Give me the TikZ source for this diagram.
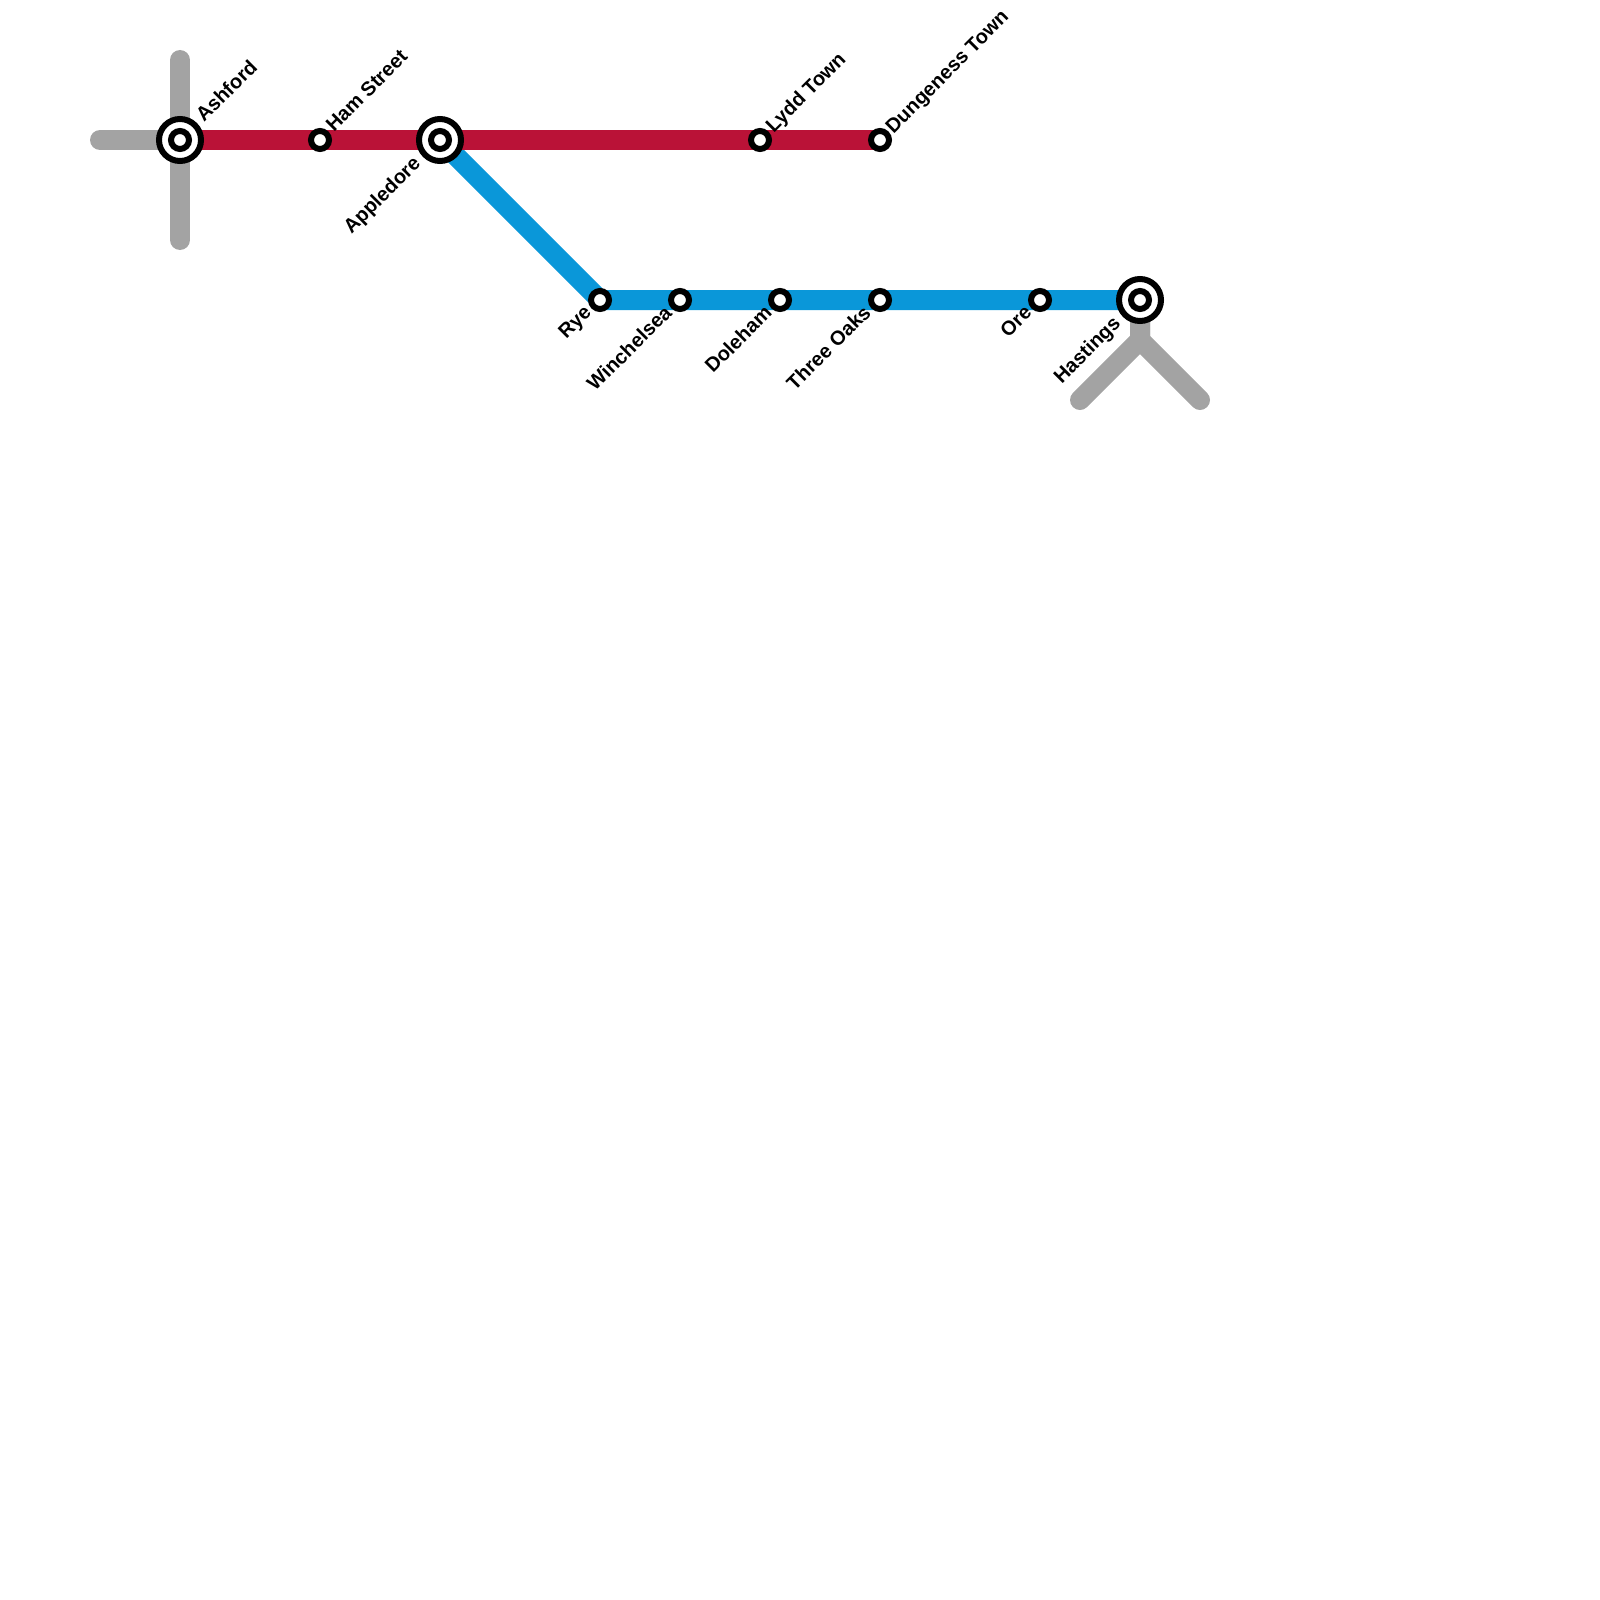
\documentclass[tikz,border=0pt]{standalone}
\usepackage{fontspec}
\setmainfont{Liberation Sans}
\usepackage{xcolor}
\usepackage{tikz}
\usetikzlibrary{positioning}

\definecolor{redline}{HTML}{BA1237}
\definecolor{blueline}{HTML}{0A97D9}
\definecolor{greyline}{HTML}{A3A3A3}

\begin{document}
\begin{tikzpicture}[
    x=1pt, y=-1pt,
    line/.style={line width=20pt, line join=miter},
    stub/.style={line, greyline, line cap=round},
    stop/.style={circle, draw=black, line width=6pt, fill=white, inner sep=0pt, minimum size=18pt},
    hub/.style={stop, minimum size=42pt},
    upname/.style={rotate=45, anchor=west, inner sep=0pt, font=\bfseries\fontsize{20}{22}\selectfont},
    downname/.style={rotate=45, anchor=east, inner sep=0pt, font=\bfseries\fontsize{20}{22}\selectfont}
]
\useasboundingbox (0,0) rectangle (1600,1600);

% stations
\coordinate (ashfordpos) at (180,140);
\coordinate (applepos) at (440,140);
\coordinate (hastingspos) at (1140,300);
\coordinate (westend) at (100,140);
\coordinate (northend) at (180,60);
\coordinate (southend) at (180,240);
\coordinate (fork) at (1140,340);
\coordinate (forkleft) at (1080,400);
\coordinate (forkright) at (1200,400);

\draw[stub] (westend) -- (ashfordpos);
\draw[stub] (northend) -- (southend);
\draw[stub] (hastingspos) -- (fork) -- (forkleft);
\draw[stub] (hastingspos) -- (fork) -- (forkright);

\draw[line, blueline] (applepos) -- (600,300) -- (hastingspos);
\draw[line, redline] (ashfordpos) -- (880,140);

\node[hub] (ashford) at (ashfordpos) {};
\node[stop] (ashfordin) at (ashford) {};
\node[stop] (hamstreet) at (320,140) {};
\node[hub] (appledore) at (applepos) {};
\node[stop] (appledorein) at (appledore) {};
\node[stop] (lydd) at (760,140) {};
\node[stop] (dungeness) at (880,140) {};
\node[stop] (rye) at (600,300) {};
\node[stop] (winchelsea) at (680,300) {};
\node[stop] (doleham) at (780,300) {};
\node[stop] (threeoaks) at (880,300) {};
\node[stop] (ore) at (1040,300) {};
\node[hub] (hastings) at (hastingspos) {};
\node[stop] (hastingsin) at (hastings) {};

% names
\node[upname] (ashfordname) at (199,118) {Ashford};
\node[upname] (hamname) at (329,128) {Ham Street};
\node[upname] (lyddname) at (770,130) {Lydd Town};
\node[upname] (dungenessname) at (890,131) {Dungeness Town};
\node[downname] (applename) at (418,161) {Appledore};
\node[downname] (ryename) at (589,310) {Rye};
\node[downname] (winchelseaname) at (668,309) {Winchelsea};
\node[downname] (dolehamname) at (768,309) {Doleham};
\node[downname] (threeoaksname) at (867,309) {Three Oaks};
\node[downname] (orename) at (1028,309) {Ore};
\node[downname] (hastingsname) at (1118,321) {Hastings};

\end{tikzpicture}
\end{document}
